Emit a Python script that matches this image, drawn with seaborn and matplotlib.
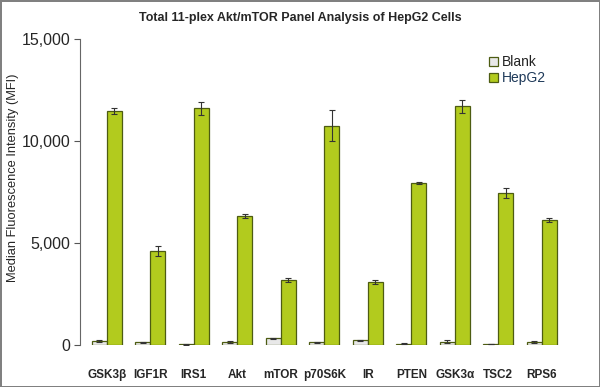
#!/usr/bin/env python3
"""
Total 11-plex Akt/mTOR panel analysis of HepG2 cells - grouped bar chart.
"""

import numpy as np
import pandas as pd
import matplotlib
matplotlib.use('Agg')
import matplotlib.pyplot as plt
import seaborn as sns

# Data
targets = ['GSK3\u03b2', 'IGF1R', 'IRS1', 'Akt', 'mTOR', 'p70S6K', 'IR', 'PTEN',
           'GSK3\u03b1', 'TSC2', 'RPS6']
blank_mfi = [180, 130, 40, 170, 330, 140, 230, 60, 170, 40, 160]
blank_err = [50, 20, 20, 50, 20, 20, 20, 20, 80, 10, 50]
hepg2_mfi = [11470, 4600, 11600, 6320, 3190, 10750, 3090, 7930, 11700, 7450, 6130]
hepg2_err = [130, 260, 330, 100, 120, 750, 100, 50, 300, 250, 100]

groups = ['Blank', 'HepG2']
colors = ['#e8e8e8', '#b2cb1e']

df = pd.DataFrame({
    'Target': targets * 2,
    'Group': ['Blank'] * len(targets) + ['HepG2'] * len(targets),
    'MFI': blank_mfi + hepg2_mfi,
    'Err': blank_err + hepg2_err,
})

sns.set_style('white')
plt.rcParams['font.family'] = ['Liberation Sans', 'DejaVu Sans']

fig = plt.figure(figsize=(6, 3.87), dpi=100)
ax = fig.add_axes([0.133, 0.1085, 0.852, 0.7905])

sns.barplot(data=df, x='Target', y='MFI', hue='Group', hue_order=groups,
            palette=colors, saturation=1, width=0.69, errorbar=None,
            edgecolor='#4d5c12', linewidth=0.9, ax=ax)

# Error bars placed on the bars seaborn drew
for container, grp in zip(ax.containers, groups):
    sub = df[df['Group'] == grp]
    xs = [p.get_x() + p.get_width() / 2 for p in container.patches]
    ax.errorbar(xs, sub['MFI'].values, yerr=sub['Err'].values, fmt='none',
                ecolor='#333333', elinewidth=0.8, capsize=2.5, capthick=0.8)

ax.set_ylim(0, 15000)
ax.set_xlim(-0.62, 11.13)
ax.set_yticks([0, 5000, 10000, 15000])
ax.set_yticklabels(['0', '5,000', '10,000', '15,000'], fontsize=11.5)
ax.set_xlabel('')
ax.set_ylabel('Median Fluorescence Intensity (MFI)', fontsize=9.3)
ax.yaxis.set_label_coords(-0.118, 0.546)
ax.tick_params(axis='y', direction='out', length=4, width=0.8, color='#555555',
               left=True, pad=3)
ax.tick_params(axis='x', length=0, pad=17)
for lab in ax.get_xticklabels():
    lab.set_fontweight('bold')
    lab.set_fontsize(8.5)

sns.despine(ax=ax, top=True, right=True, bottom=True)
ax.spines['left'].set_color('#666666')
ax.spines['left'].set_linewidth(0.8)

fig.suptitle('Total 11-plex Akt/mTOR Panel Analysis of HepG2 Cells',
             fontsize=9, fontweight='bold', y=0.968)

leg = ax.legend(loc='upper left', bbox_to_anchor=(0.79, 0.965), frameon=False,
                fontsize=10, handlelength=0.6, handleheight=0.6,
                handletextpad=0.3, labelspacing=0.15, borderaxespad=0)
for txt, col in zip(leg.get_texts(), ['#222222', '#1f3a5a']):
    txt.set_color(col)

fig.patch.set_edgecolor('#808080')
fig.patch.set_linewidth(2)

plt.savefig('out.png', dpi=100, edgecolor=fig.get_edgecolor())
plt.close()
